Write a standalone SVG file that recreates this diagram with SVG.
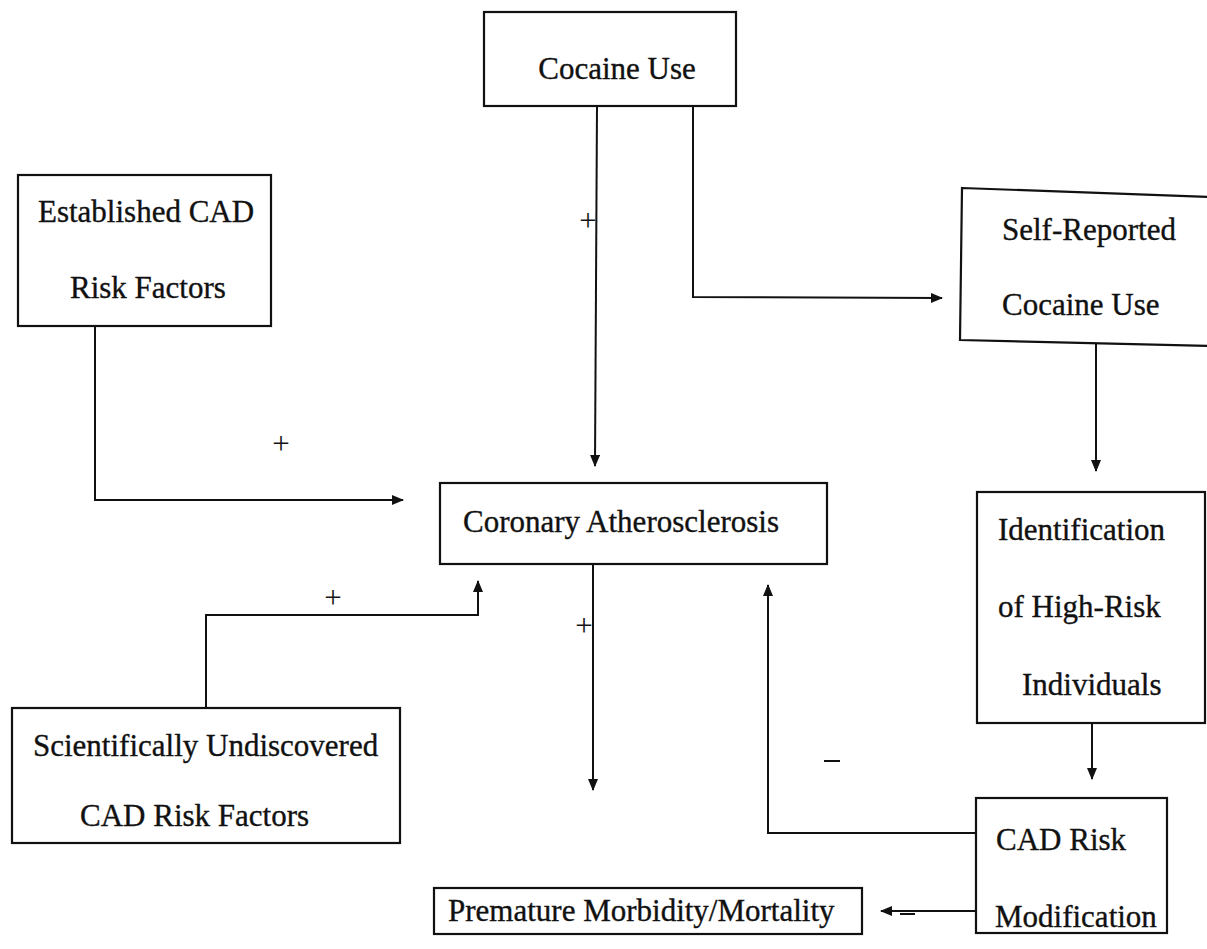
<svg xmlns="http://www.w3.org/2000/svg" width="1207" height="949" viewBox="0 0 1207 949">
  <style>
    .box { fill: #ffffff; stroke: #111111; stroke-width: 2.2; }
    .lbl { font-family: "Liberation Serif", "Times New Roman", serif; font-size: 31px; fill: #111111; stroke: #111111; stroke-width: 0.35; }
    .wire { fill: none; stroke: #111111; stroke-width: 2; }
    .sign { font-family: "Liberation Serif", "Times New Roman", serif; font-size: 31px; fill: #151515; }
  </style>
  <defs>
    <marker id="arrow" markerWidth="12" markerHeight="10" refX="11" refY="5" orient="auto" markerUnits="userSpaceOnUse">
      <path d="M0,0 L12,5 L0,10 Z" fill="#111111"/>
    </marker>
  </defs>
  <rect width="1207" height="949" fill="#ffffff"/>

  <!-- connectors -->
  <g id="connectors">
    <path class="wire" d="M597,106 L595,466" marker-end="url(#arrow)"/>
    <path class="wire" d="M693,106 L693,297 L942,298" marker-end="url(#arrow)"/>
    <path class="wire" d="M95,326 L95,500 L403,500" marker-end="url(#arrow)"/>
    <path class="wire" d="M1096,343 L1096,471" marker-end="url(#arrow)"/>
    <path class="wire" d="M1092,723 L1092,779" marker-end="url(#arrow)"/>
    <path class="wire" d="M593,564 L593,790" marker-end="url(#arrow)"/>
    <path class="wire" d="M206,708 L206,615 L478,615 L478,581" marker-end="url(#arrow)"/>
    <path class="wire" d="M977,833 L768,833 L768,585" marker-end="url(#arrow)"/>
    <path class="wire" d="M976,911 L881,911" marker-end="url(#arrow)"/>
    <!-- polarity signs -->
    <text class="sign" x="588" y="231" text-anchor="middle">+</text>
    <text class="sign" x="281" y="454" text-anchor="middle">+</text>
    <text class="sign" x="333" y="608" text-anchor="middle">+</text>
    <text class="sign" x="584" y="636" text-anchor="middle">+</text>
    <line x1="824" y1="761" x2="840" y2="761" stroke="#111111" stroke-width="2"/>
    <line x1="900" y1="914" x2="915" y2="914" stroke="#111111" stroke-width="2"/>
  </g>

  <g id="cocaine-use">
    <rect class="box" x="484" y="12" width="252" height="94"/>
    <text class="lbl" x="617" y="79" text-anchor="middle">Cocaine Use</text>
  </g>

  <g id="established-risk">
    <rect class="box" x="18" y="175" width="253" height="151"/>
    <text class="lbl" x="38" y="222">Established CAD</text>
    <text class="lbl" x="70" y="298">Risk Factors</text>
  </g>

  <g id="self-reported">
    <polygon class="box" points="962,188 1212,197 1212,346 960,340"/>
    <text class="lbl" x="1002" y="240">Self-Reported</text>
    <text class="lbl" x="1002" y="315">Cocaine Use</text>
  </g>

  <g id="coronary-atherosclerosis">
    <rect class="box" x="440" y="483" width="387" height="81"/>
    <text class="lbl" x="463" y="532">Coronary Atherosclerosis</text>
  </g>

  <g id="identification">
    <rect class="box" x="977" y="492" width="228" height="231"/>
    <text class="lbl" x="998" y="540">Identification</text>
    <text class="lbl" x="998" y="617">of High-Risk</text>
    <text class="lbl" x="1022" y="695">Individuals</text>
  </g>

  <g id="undiscovered-risk">
    <rect class="box" x="12" y="708" width="388" height="135"/>
    <text class="lbl" x="33" y="756">Scientifically Undiscovered</text>
    <text class="lbl" x="80" y="826">CAD Risk Factors</text>
  </g>

  <g id="risk-modification">
    <rect class="box" x="976" y="798" width="191" height="135"/>
    <text class="lbl" x="996" y="850">CAD Risk</text>
    <text class="lbl" x="995" y="927">Modification</text>
  </g>

  <g id="premature-outcomes">
    <rect class="box" x="434" y="888" width="428" height="46"/>
    <text class="lbl" x="448" y="921">Premature Morbidity/Mortality</text>
  </g>
</svg>
